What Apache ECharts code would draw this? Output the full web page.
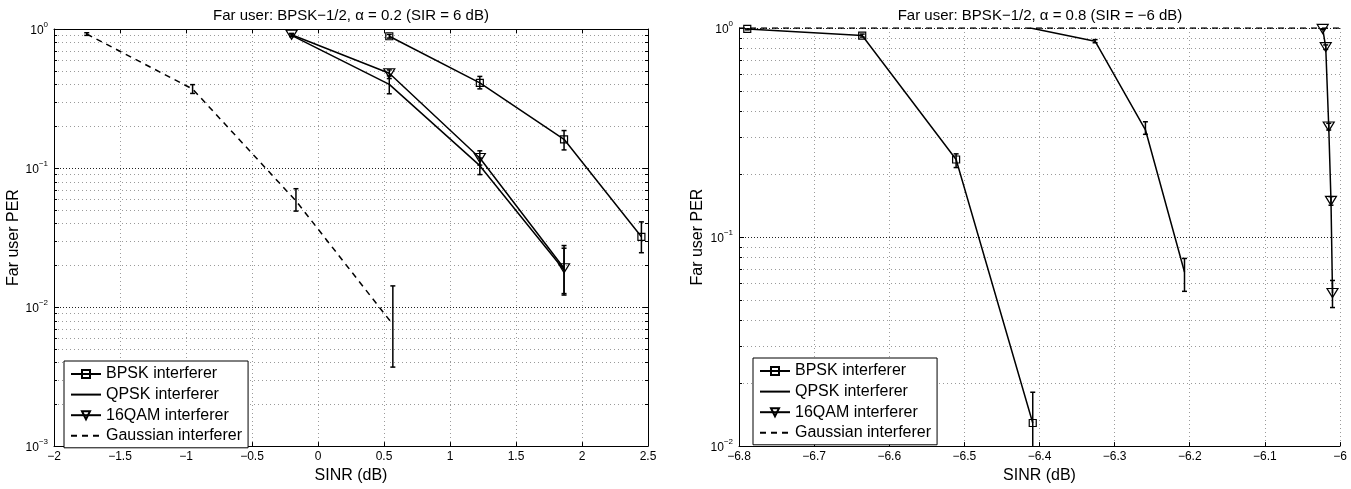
<!DOCTYPE html>
<html>
<head>
<meta charset="utf-8">
<script src="https://cdn.jsdelivr.net/npm/echarts@6/dist/echarts.min.js"></script>
<style>
  html, body { margin: 0; padding: 0; background: #fff; }
  #chart { width: 1351px; height: 489px; }
</style>
</head>
<body>
<div id="chart"></div>
<script>
// ---- Panel A: far user BPSK-1/2, alpha = 0.2 (SIR = 6 dB) ----
const sinrRangeA = [-2, 2.5];
const sinrStepA = 0.5;
const perRangeA = [0.001, 1];

const sinrBpskA = [0.54, 1.226, 1.864, 2.45];
const perBpskA  = [0.887, 0.41, 0.161, 0.032];
const lowBpskA  = [0.86, 0.371, 0.135, 0.0246];
const highBpskA = [0.915, 0.456, 0.186, 0.041];

const sinrQpskA = [-0.2, 0.54, 1.226, 1.864];
const perQpskA  = [0.90, 0.40, 0.104, 0.0185];
const lowQpskA  = [0.88, 0.342, 0.0897, 0.0122];
const highQpskA = [0.92, 0.46, 0.118, 0.0265];

const sinrQamA = [-0.2, 0.54, 1.226, 1.864];
const perQamA  = [0.91, 0.48, 0.118, 0.019];
const lowQamA  = [0.89, 0.44, 0.105, 0.0125];
const highQamA = [0.93, 0.508, 0.133, 0.0277];

const sinrGaussA = [-1.752, -0.95, -0.167, 0.567];
const perGaussA  = [0.92, 0.37, 0.058, 0.0075];
const lowGaussA  = [0.90, 0.344, 0.049, 0.0037];
const highGaussA = [0.94, 0.398, 0.071, 0.0142];

// ---- Panel B: far user BPSK-1/2, alpha = 0.8 (SIR = -6 dB) ----
const sinrRangeB = [-6.8, -6];
const sinrStepB = 0.1;
const perRangeB = [0.01, 1];

const sinrBpskB = [-6.789, -6.636, -6.511, -6.409];
const perBpskB  = [0.99, 0.92, 0.235, 0.0129];
const lowBpskB  = [0.98, 0.905, 0.215, 0.0085];
const highBpskB = [1.0, 0.935, 0.25, 0.0181];

const sinrQpskB = [-6.412, -6.326, -6.259, -6.207];
const perQpskB  = [1.0, 0.865, 0.326, 0.068];
const lowQpskB  = [1.0, 0.85, 0.31, 0.055];
const highQpskB = [1.0, 0.88, 0.356, 0.079];

const sinrQamB = [-6.023, -6.019, -6.015, -6.012, -6.010];
const perQamB  = [0.99, 0.81, 0.338, 0.149, 0.054];
const lowQamB  = [0.985, 0.79, 0.325, 0.142, 0.046];
const highQamB = [1.0, 0.83, 0.35, 0.156, 0.062];

const sinrGaussB = [-6.8, -6.6, -6.4, -6.2, -6.0];
const perGaussB  = [1, 1, 1, 1, 1];

const seriesNames = ['BPSK interferer', 'QPSK interferer', '16QAM interferer', 'Gaussian interferer'];
const titlesText = [
  'Far user: BPSK\u22121/2, \u03b1 = 0.2 (SIR = 6 dB)',
  'Far user: BPSK\u22121/2, \u03b1 = 0.8 (SIR = \u22126 dB)'
];

// ---- helpers ----
const FONT = '"Liberation Sans", Arial, Helvetica, sans-serif';
const zip = (xs, ys) => xs.map((x, i) => [x, ys[i]]);
const zip3 = (xs, lo, hi) => xs.map((x, i) => [x, lo[i], hi[i]]);

const fmtSinr = v => {
  const r = Math.round(v * 100) / 100;
  return (r < 0 ? '\u2212' : '') + Math.abs(r);
};
const fmtPer = v => {
  const e = Math.round(Math.log10(v));
  return '{b|10}{s|' + (e < 0 ? '\u2212' + (-e) : String(e)) + '}';
};

// values 2..9 x 10^k inside each decade of a log range
function minorValues(range) {
  const out = [];
  const e0 = Math.round(Math.log10(range[0]));
  const e1 = Math.round(Math.log10(range[1]));
  for (let e = e0; e < e1; e++) {
    for (let k = 2; k <= 9; k++) out.push(k * Math.pow(10, e));
  }
  return out;
}

function renderErrorBar(params, api) {
  const x = api.value(0);
  const lo = api.coord([x, api.value(1)]);
  const hi = api.coord([x, api.value(2)]);
  const cap = 2.5;
  const style = { stroke: '#000', lineWidth: 1.5, fill: null };
  return {
    type: 'group',
    children: [
      { type: 'line', shape: { x1: lo[0], y1: lo[1], x2: hi[0], y2: hi[1] }, style },
      { type: 'line', shape: { x1: lo[0] - cap, y1: lo[1], x2: lo[0] + cap, y2: lo[1] }, style },
      { type: 'line', shape: { x1: hi[0] - cap, y1: hi[1], x2: hi[0] + cap, y2: hi[1] }, style }
    ]
  };
}

function makeMinorGrid(withRightTicks) {
  return function (params, api) {
    const cs = params.coordSys;
    const y = Math.round(api.coord([api.value(0), api.value(1)])[1]) + 0.5;
    const children = [
      { type: 'line', shape: { x1: cs.x, y1: y, x2: cs.x + cs.width, y2: y },
        style: { stroke: '#9a9a9a', lineWidth: 1, lineDash: [1, 3] } },
      { type: 'line', shape: { x1: cs.x, y1: y, x2: cs.x + 3, y2: y },
        style: { stroke: '#000', lineWidth: 1 } }
    ];
    if (withRightTicks) {
      children.push({ type: 'line', shape: { x1: cs.x + cs.width - 3, y1: y, x2: cs.x + cs.width, y2: y },
        style: { stroke: '#000', lineWidth: 1 } });
    }
    return { type: 'group', children };
  };
}

function curveSeries(panel, nameIdx, data) {
  const s = {
    type: 'line', silent: true, z: 5,
    name: seriesNames[nameIdx],
    xAxisIndex: panel === 0 ? 0 : 2,
    yAxisIndex: panel === 0 ? 0 : 2,
    lineStyle: { color: '#000', width: 1.5 },
    data
  };
  const hollow = { color: 'rgba(0,0,0,0)', borderColor: '#000', borderWidth: 1.2 };
  if (nameIdx === 0) {
    s.symbol = 'rect'; s.symbolSize = 7; s.itemStyle = hollow;
  } else if (nameIdx === 2) {
    s.symbol = 'triangle'; s.symbolRotate = 180; s.symbolSize = [11, 9]; s.itemStyle = hollow;
  } else {
    // plain curves: keep a fully transparent marker so the legend key is only a line
    s.symbol = 'circle'; s.showSymbol = false;
    s.itemStyle = { color: 'rgba(0,0,0,0)', borderColor: 'rgba(0,0,0,0)', borderWidth: 0 };
  }
  if (nameIdx === 3) s.lineStyle.type = [6, 5];
  return s;
}
function barSeries(panel, label, data) {
  return {
    type: 'custom', name: label, silent: true, z: 4, clip: true,
    xAxisIndex: panel === 0 ? 0 : 2,
    yAxisIndex: panel === 0 ? 0 : 2,
    encode: { x: 0, y: [1, 2] },
    renderItem: renderErrorBar,
    data
  };
}
function minorSeries(panel, range, xMin, rightTicks) {
  return {
    type: 'custom', name: 'minor grid ' + panel, silent: true, z: 1,
    xAxisIndex: panel === 0 ? 0 : 2,
    yAxisIndex: panel === 0 ? 0 : 2,
    encode: { x: 0, y: 1 },
    renderItem: makeMinorGrid(rightTicks),
    data: minorValues(range).map(v => [xMin, v])
  };
}

const tickText = { color: '#000', fontFamily: FONT, fontSize: 12 };
const nameText = { color: '#000', fontFamily: FONT, fontSize: 16 };
const gridDots = { color: '#9a9a9a', width: 1, type: [1, 3] };
const majorDots = { color: '#222', width: 1, type: [1, 2] };

function xAxisBottom(grid, range, step) {
  return {
    type: 'value', gridIndex: grid, position: 'bottom',
    min: range[0], max: range[1], interval: step,
    name: 'SINR (dB)', nameLocation: 'middle', nameGap: 15, nameTextStyle: nameText,
    axisLine: { show: true, onZero: false, lineStyle: { color: '#000', width: 1 } },
    axisTick: { show: true, inside: true, length: 4, lineStyle: { color: '#000' } },
    axisLabel: Object.assign({ margin: 5, formatter: fmtSinr, showMinLabel: true, showMaxLabel: true }, tickText),
    splitLine: { show: true, lineStyle: gridDots }
  };
}
function xAxisTop(grid, range, step, show) {
  return {
    type: 'value', gridIndex: grid, position: 'top', show,
    min: range[0], max: range[1], interval: step,
    axisLine: { show: true, onZero: false, lineStyle: { color: '#000', width: 1 } },
    axisTick: { show: true, inside: true, length: 4, lineStyle: { color: '#000' } },
    axisLabel: { show: false },
    splitLine: { show: false }
  };
}
function yAxisLeft(grid, range, gap) {
  return {
    type: 'log', logBase: 10, gridIndex: grid, position: 'left',
    min: range[0], max: range[1],
    name: 'Far user PER', nameLocation: 'middle', nameGap: gap, nameTextStyle: nameText,
    axisLine: { show: true, onZero: false, lineStyle: { color: '#000', width: 1 } },
    axisTick: { show: true, inside: true, length: 5, lineStyle: { color: '#000' } },
    axisLabel: {
      margin: 6, formatter: fmtPer,
      rich: {
        b: { fontFamily: FONT, fontSize: 12, color: '#000', lineHeight: 16, verticalAlign: 'bottom' },
        s: { fontFamily: FONT, fontSize: 8, color: '#000', lineHeight: 16, verticalAlign: 'top' }
      }
    },
    splitLine: { show: true, lineStyle: majorDots }
  };
}
function yAxisRight(grid, range) {
  return {
    type: 'log', logBase: 10, gridIndex: grid, position: 'right',
    min: range[0], max: range[1],
    axisLine: { show: true, onZero: false, lineStyle: { color: '#000', width: 1 } },
    axisTick: { show: true, inside: true, length: 5, lineStyle: { color: '#000' } },
    axisLabel: { show: false },
    splitLine: { show: false }
  };
}
function legendAt(left, top) {
  return {
    data: seriesNames, orient: 'vertical', left, top,
    padding: [5, 6, 4, 6], itemGap: 4.6, itemWidth: 30, itemHeight: 10,
    borderColor: '#000', borderWidth: 1, backgroundColor: '#fff',
    selectedMode: false, z: 10,
    textStyle: { color: '#000', fontFamily: FONT, fontSize: 16, lineHeight: 16 }
  };
}

const option = {
  animation: false,
  backgroundColor: '#fff',
  title: [
    { text: titlesText[0], left: 351, top: 8, textAlign: 'center', padding: 0,
      textStyle: { color: '#000', fontFamily: FONT, fontSize: 15, fontWeight: 'normal' } },
    { text: titlesText[1], left: 1040, top: 8, textAlign: 'center', padding: 0,
      textStyle: { color: '#000', fontFamily: FONT, fontSize: 15, fontWeight: 'normal' } }
  ],
  grid: [
    { left: 54, top: 29, width: 594, height: 426 },
    { left: 739, top: 28, width: 601, height: 425 }
  ],
  legend: [legendAt(64, 361), legendAt(753, 358)],
  xAxis: [
    xAxisBottom(0, sinrRangeA, sinrStepA),
    xAxisTop(0, sinrRangeA, sinrStepA, true),
    xAxisBottom(1, sinrRangeB, sinrStepB)
  ],
  yAxis: [
    yAxisLeft(0, perRangeA, 28),
    yAxisRight(0, perRangeA),
    yAxisLeft(1, perRangeB, 33)
  ],
  series: [
    minorSeries(0, perRangeA, sinrRangeA[0], true),
    minorSeries(1, perRangeB, sinrRangeB[0], false),

    barSeries(0, 'BPSK bars A', zip3(sinrBpskA, lowBpskA, highBpskA)),
    barSeries(0, 'QPSK bars A', zip3(sinrQpskA, lowQpskA, highQpskA)),
    barSeries(0, '16QAM bars A', zip3(sinrQamA, lowQamA, highQamA)),
    barSeries(0, 'Gaussian bars A', zip3(sinrGaussA, lowGaussA, highGaussA)),
    curveSeries(0, 0, zip(sinrBpskA, perBpskA)),
    curveSeries(0, 1, zip(sinrQpskA, perQpskA)),
    curveSeries(0, 2, zip(sinrQamA, perQamA)),
    curveSeries(0, 3, zip(sinrGaussA, perGaussA)),

    barSeries(1, 'BPSK bars B', zip3(sinrBpskB, lowBpskB, highBpskB)),
    barSeries(1, 'QPSK bars B', zip3(sinrQpskB, lowQpskB, highQpskB)),
    barSeries(1, '16QAM bars B', zip3(sinrQamB, lowQamB, highQamB)),
    curveSeries(1, 0, zip(sinrBpskB, perBpskB)),
    curveSeries(1, 1, zip(sinrQpskB, perQpskB)),
    curveSeries(1, 2, zip(sinrQamB, perQamB)),
    curveSeries(1, 3, zip(sinrGaussB, perGaussB))
  ]
};

const chart = echarts.init(document.getElementById('chart'), null, { renderer: 'canvas' });
chart.setOption(option);
</script>
</body>
</html>
